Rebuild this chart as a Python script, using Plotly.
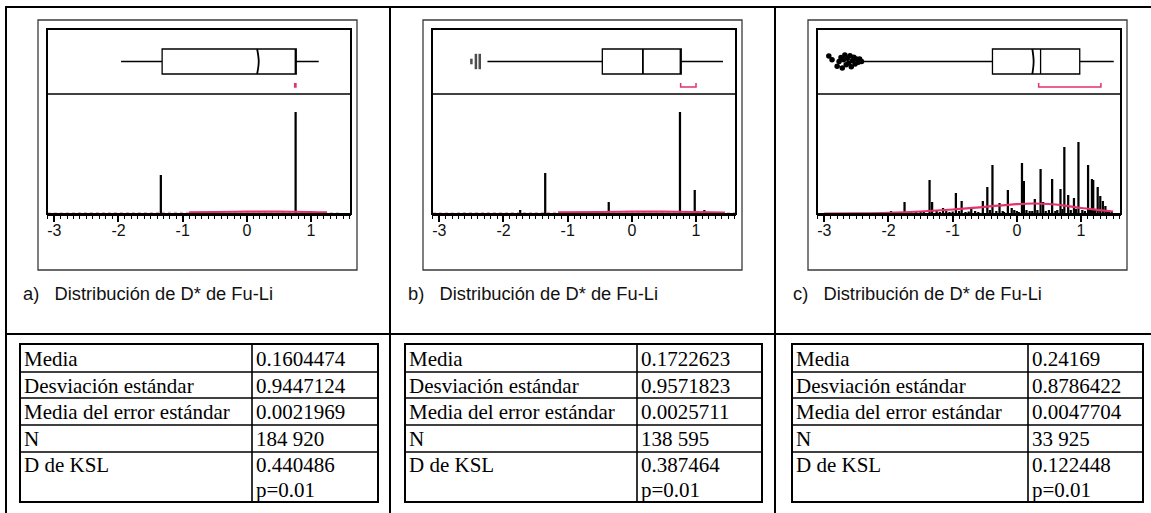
import plotly.graph_objects as go

W, H = 1151, 513

# ---- data -------------------------------------------------------------
panel_tags = ["a)", "b)", "c)"]
panel_title = "Distribución de D* de Fu-Li"

tick_vals = [-3, -2, -1, 0, 1]
tick_text = ["-3", "-2", "-1", "0", "1"]

# summary table values
media = [0.1604474, 0.1722623, 0.24169]
desviacion = [0.9447124, 0.9571823, 0.8786422]
error_std = [0.0021969, 0.0025711, 0.0047704]
n_obs = [184920, 138595, 33925]
d_ksl = [0.440486, 0.387464, 0.122448]
p_ksl = [0.01, 0.01, 0.01]

# box-plot statistics
q1 = [-1.32, -0.46, -0.38]
median = [0.76, 0.76, 0.37]
q3 = [0.77, 0.77, 0.98]
lower_fence = [-1.96, -2.25, -2.39]
upper_fence = [1.12, 1.42, 1.51]
half_lo = [0.745, 0.76, 0.34]
half_hi = [0.765, 1.00, 1.31]

outliers_b_x = [-2.50, -2.43, -2.37]
outliers_c_x = [-2.93, -2.88, -2.80, -2.77, -2.74, -2.72, -2.70, -2.68, -2.66, -2.64,
                -2.62, -2.60, -2.58, -2.56, -2.54, -2.52, -2.50, -2.47, -2.45, -2.42]
outliers_c_y = [0.17, 0.05, -0.15, 0.00, 0.12, -0.20, 0.05, 0.20, -0.10, 0.10,
                -0.05, 0.18, -0.16, 0.02, 0.13, -0.08, 0.08, -0.02, 0.08, 0.00]

# histogram bins (centre, relative frequency)
bins_a_x = [-1.34, 0.76, 0.98, 1.10]
bins_a_h = [39, 102, 3, 1.5]

bins_b_x = [-1.74, -1.35, -0.36, 0.75, 0.98, 1.13, 1.30]
bins_b_h = [4, 41, 12, 102, 24, 4, 2]

bins_c_x = [-1.96, -1.75, -1.57, -1.36, -1.32, -1.15, -0.95, -0.86, -0.71, -0.53,
            -0.46, -0.38, -0.27, -0.14, -0.08, 0.08, 0.11, 0.28, 0.37, 0.41,
            0.55, 0.68, 0.74, 0.80, 0.89, 0.96, 1.11, 1.17, 1.19, 1.26,
            1.30, 1.34, 1.38, 1.44]
bins_c_h = [3, 12, 3, 34, 12, 6, 21, 13, 5, 13,
            27, 49, 11, 24, 6, 51, 33, 15, 45, 12,
            35, 25, 67, 19, 16, 72, 49, 35, 34, 27,
            18, 13, 8, 3]
small_c_x = [-1.90, -1.85, -1.70, -1.65, -1.50, -1.45, -1.25, -1.20, -1.10, -1.05,
             -1.00, -0.90, -0.80, -0.75, -0.65, -0.60, -0.42, -0.32, -0.22, -0.20,
             -0.04, 0.00, 0.03, 0.15, 0.20, 0.24, 0.32, 0.45, 0.50, 0.60,
             0.63, 0.71, 0.84, 0.92, 1.02, 1.06, 1.14, 1.22, 1.41, 1.48]
small_c_h = [1.5, 2, 2, 1.5, 2, 2.5, 3, 2, 3, 2,
             2.5, 3, 2, 2.5, 3, 2, 4, 3, 3, 2,
             4, 3, 2, 4, 3, 3, 4, 3, 4, 3,
             4, 5, 4, 5, 4, 3, 5, 4, 3, 2]

# fitted normal curves (read at a few abscissae)
fit_a_x = [-0.90, -0.50, 0.00, 0.50, 1.00, 1.25]
fit_a_h = [1.6, 2.0, 2.3, 2.3, 2.0, 1.6]
fit_b_x = [-1.15, -0.50, 0.00, 0.50, 1.00, 1.45]
fit_b_h = [1.6, 2.0, 2.3, 2.3, 2.0, 1.5]
fit_c_x = [-3.0, -2.5, -2.0, -1.5, -1.0, -0.5, 0.0, 0.25, 0.5, 0.75, 1.0, 1.25, 1.5]
fit_c_h = [0.3, 0.6, 1.2, 2.5, 4.5, 7.2, 9.8, 10.5, 10.0, 8.3, 6.0, 4.2, 2.5]
tail_x = [-3.1, -2.0, -1.0]
tail_h = [1.2, 1.4, 1.6]

# ---- styling / geometry ----------------------------------------------
SANS = "Liberation Sans, Arial, sans-serif"
SERIF = "Liberation Serif, Times New Roman, serif"
RED = "#e2336a"
XMIN, XMAX = -3.114, 1.623

offsets = [0, 385, 770]
tbl_left = [20, 405, 792]
tbl_split = [252, 637, 1028]
tbl_right = [378, 762, 1143]
row_edges = [344, 372, 398, 425, 452, 502]


def px(x):
    return x / W


def py(y):
    return 1 - y / H


def axname(kind, k):
    return kind if k == 1 else f"{kind}{k}"


bins_x = [bins_a_x, bins_b_x, bins_c_x + small_c_x]
bins_h = [bins_a_h, bins_b_h, bins_c_h + small_c_h]
fits = [(fit_a_x, fit_a_h), (fit_b_x, fit_b_h), (fit_c_x, fit_c_h)]
mean_bend = [0.025, 0.0, 0.02]

fig = go.Figure()
shapes = []
annotations = []
layout_axes = {}

BOX_HALF = 0.385

for i in range(3):
    off = offsets[i]
    kh, kb = 2 * i + 1, 2 * i + 2
    xh, yh = axname("x", kh), axname("y", kh)
    xb, yb = axname("x", kb), axname("y", kb)
    dom_x = [px(47 + off), px(351 + off)]

    layout_axes[axname("xaxis", kh)] = dict(
        domain=dom_x, range=[XMIN, XMAX], anchor=yh,
        showline=True, linecolor="black", linewidth=2,
        ticks="outside", ticklen=6, tickwidth=1.5, tickcolor="black",
        tickmode="array", tickvals=tick_vals, ticktext=tick_text,
        tickfont=dict(family=SANS, size=16, color="#111"),
        ticklabelstandoff=-5,
        minor=dict(ticks="outside", ticklen=3, tickwidth=1, tickcolor="black",
                   tick0=-3, dtick=0.1, showgrid=False),
        showgrid=False, zeroline=False, fixedrange=True,
    )
    layout_axes[axname("yaxis", kh)] = dict(
        domain=[py(214), py(94)], range=[0, 120], anchor=xh, visible=False,
        fixedrange=True,
    )
    layout_axes[axname("xaxis", kb)] = dict(
        domain=dom_x, range=[XMIN, XMAX], anchor=yb, visible=False,
        fixedrange=True,
    )
    layout_axes[axname("yaxis", kb)] = dict(
        domain=[py(94), py(29)], range=[-1, 1], anchor=xb, visible=False,
        fixedrange=True,
    )

    # histogram
    fig.add_trace(go.Bar(
        x=bins_x[i], y=bins_h[i], width=0.035,
        marker=dict(color="black", line_width=0),
        xaxis=xh, yaxis=yh, showlegend=False, hoverinfo="skip",
    ))
    # fitted curve
    if i < 2:
        fig.add_trace(go.Scatter(
            x=tail_x + [fits[i][0][-1] + 0.2], y=tail_h + [1.2], mode="lines",
            line=dict(color=RED, width=1.2, dash="dot"), opacity=0.45,
            xaxis=xh, yaxis=yh, showlegend=False, hoverinfo="skip",
        ))
    fig.add_trace(go.Scatter(
        x=fits[i][0], y=fits[i][1], mode="lines", line_shape="spline",
        line=dict(color=RED, width=2.2),
        xaxis=xh, yaxis=yh, showlegend=False, hoverinfo="skip",
    ))

    # box plot
    fig.add_trace(go.Box(
        y=[0], orientation="h",
        q1=[q1[i]], median=[median[i]], q3=[q3[i]],
        lowerfence=[lower_fence[i]], upperfence=[upper_fence[i]],
        width=2 * BOX_HALF, whiskerwidth=0, boxpoints=False,
        fillcolor="white", line=dict(color="black", width=1.3),
        xaxis=xb, yaxis=yb, showlegend=False, hoverinfo="skip",
    ))
    # mean mark
    fig.add_trace(go.Scatter(
        x=[media[i], media[i] + mean_bend[i], media[i]],
        y=[-BOX_HALF, 0, BOX_HALF], mode="lines", line_shape="spline",
        line=dict(color="black", width=1.8),
        xaxis=xb, yaxis=yb, showlegend=False, hoverinfo="skip",
    ))
    # shortest half bracket
    fig.add_trace(go.Scatter(
        x=[half_lo[i], half_lo[i], half_hi[i], half_hi[i]],
        y=[-0.66, -0.785, -0.785, -0.66], mode="lines",
        line=dict(color=RED, width=1.5),
        xaxis=xb, yaxis=yb, showlegend=False, hoverinfo="skip",
    ))
    if i == 1:
        fig.add_trace(go.Scatter(
            x=outliers_b_x, y=[0] * len(outliers_b_x), mode="markers",
            marker=dict(symbol="line-ns-open", size=[4, 11, 11],
                        line=dict(color="black", width=2.5), color="black"),
            xaxis=xb, yaxis=yb, showlegend=False, hoverinfo="skip",
        ))
    if i == 2:
        fig.add_trace(go.Scatter(
            x=outliers_c_x, y=outliers_c_y, mode="markers",
            marker=dict(symbol="circle", size=5.5, color="black"),
            xaxis=xb, yaxis=yb, showlegend=False, hoverinfo="skip",
        ))

    # chart frames
    shapes.append(dict(type="rect", xref="paper", yref="paper",
                       x0=px(38 + off), x1=px(357 + off), y0=py(270), y1=py(20),
                       line=dict(color="#3a3a3a", width=1.3)))
    shapes.append(dict(type="rect", xref="paper", yref="paper",
                       x0=px(47 + off), x1=px(351 + off), y0=py(214), y1=py(29),
                       line=dict(color="black", width=2)))
    shapes.append(dict(type="line", xref="paper", yref="paper",
                       x0=px(47 + off), x1=px(351 + off), y0=py(94), y1=py(94),
                       line=dict(color="black", width=1.6)))

    # caption
    annotations.append(dict(
        xref="paper", yref="paper", x=px(21 + off), y=py(293),
        xanchor="left", yanchor="middle", showarrow=False,
        text=f"{panel_tags[i]}\u00a0\u00a0 {panel_title}",
        font=dict(family=SANS, size=18.3, color="#111"),
    ))

    # summary table
    l, s, r = tbl_left[i], tbl_split[i], tbl_right[i]
    shapes.append(dict(type="rect", xref="paper", yref="paper",
                       x0=px(l), x1=px(r), y0=py(row_edges[-1]), y1=py(row_edges[0]),
                       line=dict(color="black", width=2)))
    shapes.append(dict(type="line", xref="paper", yref="paper",
                       x0=px(s), x1=px(s), y0=py(row_edges[-1]), y1=py(row_edges[0]),
                       line=dict(color="black", width=1.6)))
    for ye in row_edges[1:-1]:
        shapes.append(dict(type="line", xref="paper", yref="paper",
                           x0=px(l), x1=px(r), y0=py(ye), y1=py(ye),
                           line=dict(color="black", width=1.6)))

    labels = ["Media", "Desviación estándar", "Media del error estándar", "N", "D de KSL"]
    values = [str(media[i]), str(desviacion[i]), str(error_std[i]),
              f"{n_obs[i]:,}".replace(",", " "), str(d_ksl[i])]
    centers = [359, 386, 412, 439, 465]
    for lab, val, yc in zip(labels, values, centers):
        annotations.append(dict(
            xref="paper", yref="paper", x=px(l + 2), y=py(yc),
            xanchor="left", yanchor="middle", showarrow=False, text=lab,
            font=dict(family=SERIF, size=21, color="black")))
        annotations.append(dict(
            xref="paper", yref="paper", x=px(s + 2), y=py(yc),
            xanchor="left", yanchor="middle", showarrow=False, text=val,
            font=dict(family=SERIF, size=21, color="black")))
    annotations.append(dict(
        xref="paper", yref="paper", x=px(s + 2), y=py(490),
        xanchor="left", yanchor="middle", showarrow=False, text=f"p={p_ksl[i]}",
        font=dict(family=SERIF, size=21, color="black")))

# page rules
for x0, y0, x1, y1 in [(5, 7, 1151, 7), (6, 7, 6, 513), (390, 7, 390, 513),
                       (775, 7, 775, 513), (6, 334, 1151, 334)]:
    shapes.append(dict(type="line", xref="paper", yref="paper",
                       x0=px(x0), x1=px(x1), y0=py(y0), y1=py(y1),
                       line=dict(color="black", width=2)))

fig.update_layout(
    width=W, height=H, margin=dict(l=0, r=0, t=0, b=0),
    paper_bgcolor="white", plot_bgcolor="rgba(0,0,0,0)",
    barmode="overlay", showlegend=False,
    shapes=shapes, annotations=annotations,
    **layout_axes,
)

fig.write_html("out.html", config={"displayModeBar": False})
